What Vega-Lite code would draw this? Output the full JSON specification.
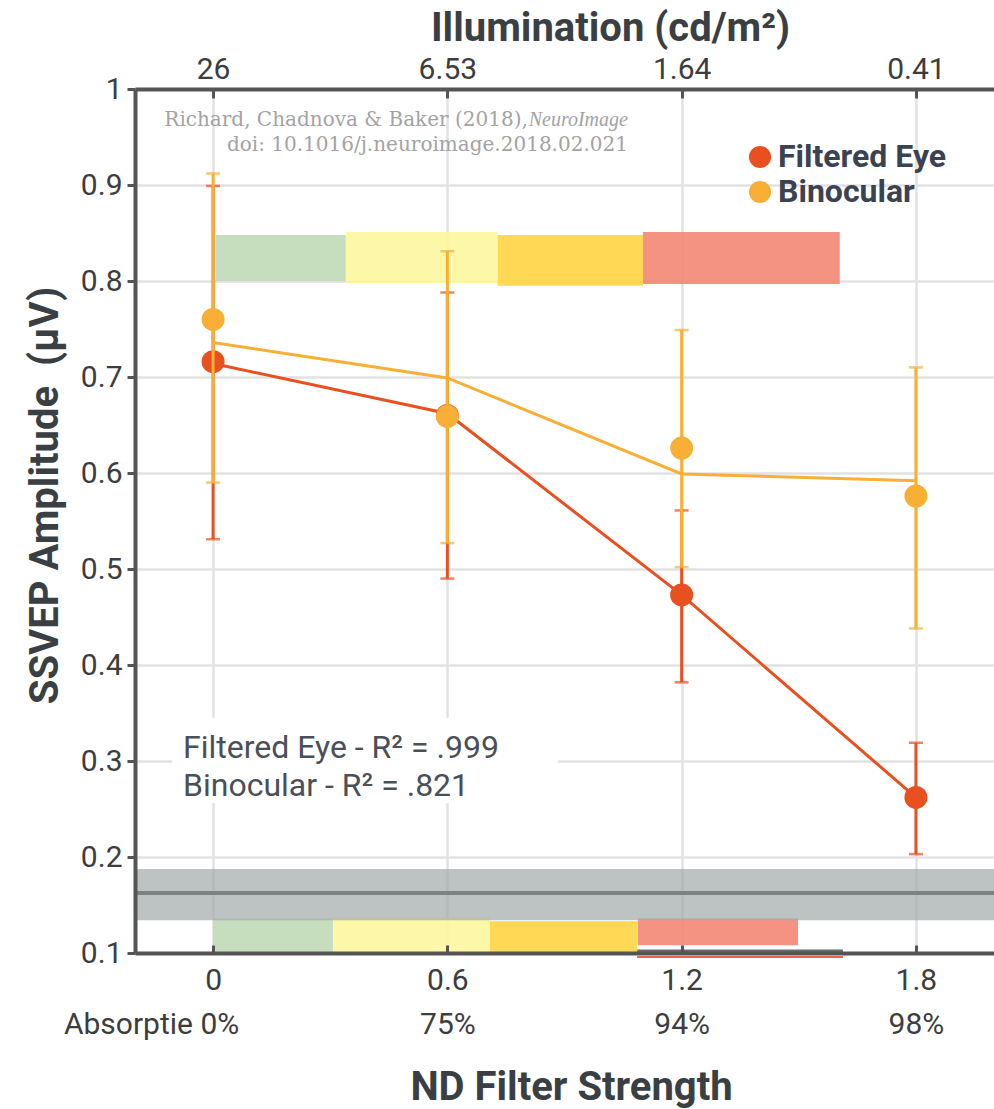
{
  "$schema": "https://vega.github.io/schema/vega-lite/v6.json",
  "width": 859,
  "height": 864,
  "autosize": {"type": "none"},
  "padding": {"left": 135, "top": 89, "right": 0, "bottom": 156},
  "config": {
    "view": {"stroke": null},
    "axis": {
      "labelFont": "Roboto",
      "titleFont": "Roboto",
      "labelColor": "#3d3d3d",
      "titleColor": "#3a3f44",
      "labelFontSize": 30,
      "titleFontSize": 40,
      "titleFontWeight": "bold",
      "labelFlush": false,
      "labelOverlap": false,
      "labelBound": false
    },
    "legend": {
      "labelFont": "Roboto",
      "labelFontSize": 32,
      "labelFontWeight": "bold",
      "labelColor": "#3b4252",
      "labelLimit": 400,
      "symbolType": "circle",
      "symbolSize": 490,
      "symbolStrokeWidth": 0,
      "symbolOpacity": 1,
      "rowPadding": 3,
      "labelOffset": 2
    }
  },
  "datasets": {
    "series": [
      {"cond": "Filtered Eye", "nd": 0, "amp": 0.716, "lo": 0.531, "hi": 0.899, "fit": 0.714},
      {"cond": "Filtered Eye", "nd": 0.6, "amp": 0.66, "lo": 0.49, "hi": 0.788, "fit": 0.662},
      {"cond": "Filtered Eye", "nd": 1.2, "amp": 0.473, "lo": 0.382, "hi": 0.561, "fit": 0.473},
      {"cond": "Filtered Eye", "nd": 1.8, "amp": 0.262, "lo": 0.203, "hi": 0.319, "fit": 0.262},
      {"cond": "Binocular", "nd": 0, "amp": 0.76, "lo": 0.59, "hi": 0.912, "fit": 0.736},
      {"cond": "Binocular", "nd": 0.6, "amp": 0.659, "lo": 0.527, "hi": 0.831, "fit": 0.699},
      {"cond": "Binocular", "nd": 1.2, "amp": 0.626, "lo": 0.502, "hi": 0.749, "fit": 0.599},
      {"cond": "Binocular", "nd": 1.8, "amp": 0.576, "lo": 0.438, "hi": 0.71, "fit": 0.592}
    ],
    "bands": [
      {"zone": "z1", "x0": 0.007, "x1": 0.34, "y0": 0.8, "y1": 0.848},
      {"zone": "z2", "x0": 0.34, "x1": 0.729, "y0": 0.798, "y1": 0.851},
      {"zone": "z3", "x0": 0.729, "x1": 1.101, "y0": 0.795, "y1": 0.848},
      {"zone": "z4", "x0": 1.101, "x1": 1.605, "y0": 0.797, "y1": 0.851},
      {"zone": "z1", "x0": 0.0, "x1": 0.307, "y0": 0.1, "y1": 0.136},
      {"zone": "z2", "x0": 0.307, "x1": 0.709, "y0": 0.1, "y1": 0.137},
      {"zone": "z3", "x0": 0.709, "x1": 1.086, "y0": 0.1, "y1": 0.133},
      {"zone": "z4", "x0": 1.088, "x1": 1.498, "y0": 0.108, "y1": 0.136}
    ],
    "noise": [
      {"lo": 0.134, "hi": 0.1875, "mid": 0.1625}
    ]
  },
  "resolve": {"axis": {"x": "independent", "y": "independent"}},
  "layer": [
    {
      "data": {"name": "bands"},
      "mark": {"type": "rect", "opacity": 0.9},
      "encoding": {
        "x": {"field": "x0", "type": "quantitative", "scale": {"domain": [-0.2, 2.0], "nice": false, "zero": false},
          "axis": {"orient": "bottom", "values": [0, 0.6, 1.2, 1.8], "grid": true, "gridColor": "#e2e2e2", "gridWidth": 2.5, "labels": false, "ticks": false, "domain": false, "title": null, "zindex": 0}},
        "x2": {"field": "x1"},
        "y": {"field": "y0", "type": "quantitative", "scale": {"domain": [0.1, 1.0], "nice": false, "zero": false},
          "axis": {"orient": "right", "values": [0.1, 0.2, 0.3, 0.4, 0.5, 0.6, 0.7, 0.8, 0.9, 1.0], "grid": true, "gridColor": "#e2e2e2", "gridWidth": 2.5, "labels": false, "ticks": false, "domain": false, "title": null, "zindex": 0}},
        "y2": {"field": "y1"},
        "color": {"field": "zone", "type": "nominal",
          "scale": {"domain": ["Filtered Eye", "Binocular", "z1", "z2", "z3", "z4"], "range": ["#e9501f", "#f8af35", "#c0dab7", "#fdf79e", "#ffd443", "#f48775"]},
          "legend": {"orient": "none", "legendX": 609, "legendY": 52, "title": null, "symbolType": "circle", "symbolOpacity": 1, "values": ["Filtered Eye", "Binocular"]}}
      }
    },
    {
      "data": {"name": "noise"},
      "mark": {"type": "rect", "color": "#a3abab", "opacity": 0.72},
      "encoding": {
        "y": {"field": "lo", "type": "quantitative", "scale": {"domain": [0.1, 1.0], "nice": false, "zero": false},
          "axis": {"orient": "left", "values": [0.1, 0.2, 0.3, 0.4, 0.5, 0.6, 0.7, 0.8, 0.9, 1.0], "format": "~g", "grid": false, "domainColor": "#555555", "domainWidth": 4, "tickColor": "#555555", "tickWidth": 3, "tickSize": 8, "labelPadding": 5,
            "title": "SSVEP Amplitude \u00a0(µV)", "titleX": -90, "titleY": 406, "titleAngle": -90, "titleAlign": "center", "titleBaseline": "middle", "zindex": 1}},
        "y2": {"field": "hi"}
      }
    },
    {
      "data": {"name": "noise"},
      "mark": {"type": "rule", "color": "#7b8383", "strokeWidth": 4},
      "encoding": {
        "y": {"field": "mid", "type": "quantitative", "scale": {"domain": [0.1, 1.0], "nice": false, "zero": false}, "axis": null}
      }
    },
    {
      "data": {"name": "noise"},
      "mark": {"type": "rect", "color": "white"},
      "encoding": {
        "x": {"datum": -0.105, "type": "quantitative", "scale": {"domain": [-0.2, 2.0], "nice": false, "zero": false},
          "axis": {"orient": "bottom", "values": [0, 0.6, 1.2, 1.8], "format": "~g", "grid": false, "ticks": true, "tickSize": -8, "tickWidth": 3, "tickColor": "#555555", "domainColor": "#555555", "domainWidth": 4, "labelPadding": 20, "title": null, "zindex": 1}},
        "x2": {"datum": 0.883},
        "y": {"datum": 0.256, "type": "quantitative", "scale": {"domain": [0.1, 1.0], "nice": false, "zero": false}, "axis": null},
        "y2": {"datum": 0.345}
      }
    },
    {
      "data": {"name": "noise"},
      "mark": {"type": "rule", "color": "#6b6b6b", "strokeWidth": 4},
      "encoding": {
        "x": {"datum": 1.086, "type": "quantitative", "scale": {"domain": [-0.2, 2.0], "nice": false, "zero": false},
          "axis": {"orient": "top", "values": [0, 0.6, 1.2, 1.8], "grid": false, "ticks": true, "tickSize": -9, "tickWidth": 3, "tickColor": "#555555", "domainColor": "#555555", "domainWidth": 4, "labelPadding": 14,
            "labelExpr": "datum.value == 0 ? '26' : datum.value == 0.6 ? '6.53' : datum.value == 1.2 ? '1.64' : '0.41'",
            "title": "Illumination (cd/m²)", "titleX": 475, "titleY": -61, "titleBaseline": "middle", "titleAlign": "center", "zindex": 1}},
        "x2": {"datum": 1.613},
        "y": {"datum": 0.1015, "type": "quantitative", "scale": {"domain": [0.1, 1.0], "nice": false, "zero": false}, "axis": null}
      }
    },
    {
      "data": {"name": "noise"},
      "mark": {"type": "rule", "color": "#f0604a", "strokeWidth": 2},
      "encoding": {
        "x": {"datum": 1.086, "type": "quantitative", "scale": {"domain": [-0.2, 2.0], "nice": false, "zero": false},
          "axis": {"orient": "bottom", "values": [0, 0.6, 1.2, 1.8], "grid": false, "ticks": false, "domain": false, "labelPadding": 56,
            "labelExpr": "datum.value == 0 ? 'Absorptie 0%' : datum.value == 0.6 ? '75%' : datum.value == 1.2 ? '94%' : '98%'",
            "labelOffset": {"condition": {"test": "datum.value == 0", "value": -62}, "value": 0},
            "title": "ND Filter Strength", "titleX": 436, "titleY": 134, "titleBaseline": "middle", "titleAlign": "center", "zindex": 1}},
        "x2": {"datum": 1.613},
        "y": {"datum": 0.0958, "type": "quantitative", "scale": {"domain": [0.1, 1.0], "nice": false, "zero": false}, "axis": null}
      }
    },
    {
      "data": {"name": "series"},
      "transform": [{"filter": "datum.cond == 'Filtered Eye'"}],
      "mark": {"type": "errorbar", "ticks": {"size": 14, "thickness": 2.5}, "rule": {"strokeWidth": 3}},
      "encoding": {
        "x": {"field": "nd", "type": "quantitative", "scale": {"domain": [-0.2, 2.0], "nice": false, "zero": false}, "axis": null},
        "y": {"field": "lo", "type": "quantitative", "scale": {"domain": [0.1, 1.0], "nice": false, "zero": false}, "axis": null},
        "y2": {"field": "hi"},
        "color": {"field": "cond", "type": "nominal"}
      }
    },
    {
      "data": {"name": "series"},
      "transform": [{"filter": "datum.cond == 'Filtered Eye'"}],
      "mark": {"type": "line", "strokeWidth": 3},
      "encoding": {
        "x": {"field": "nd", "type": "quantitative", "scale": {"domain": [-0.2, 2.0], "nice": false, "zero": false}, "axis": null},
        "y": {"field": "fit", "type": "quantitative", "scale": {"domain": [0.1, 1.0], "nice": false, "zero": false}, "axis": null},
        "color": {"field": "cond", "type": "nominal"}
      }
    },
    {
      "data": {"name": "series"},
      "transform": [{"filter": "datum.cond == 'Filtered Eye'"}],
      "mark": {"type": "point", "filled": true, "size": 530, "opacity": 1},
      "encoding": {
        "x": {"field": "nd", "type": "quantitative", "scale": {"domain": [-0.2, 2.0], "nice": false, "zero": false}, "axis": null},
        "y": {"field": "amp", "type": "quantitative", "scale": {"domain": [0.1, 1.0], "nice": false, "zero": false}, "axis": null},
        "color": {"field": "cond", "type": "nominal"}
      }
    },
    {
      "data": {"name": "series"},
      "transform": [{"filter": "datum.cond == 'Binocular'"}],
      "mark": {"type": "errorbar", "ticks": {"size": 14, "thickness": 2.5}, "rule": {"strokeWidth": 3}},
      "encoding": {
        "x": {"field": "nd", "type": "quantitative", "scale": {"domain": [-0.2, 2.0], "nice": false, "zero": false}, "axis": null},
        "y": {"field": "lo", "type": "quantitative", "scale": {"domain": [0.1, 1.0], "nice": false, "zero": false}, "axis": null},
        "y2": {"field": "hi"},
        "color": {"field": "cond", "type": "nominal"}
      }
    },
    {
      "data": {"name": "series"},
      "transform": [{"filter": "datum.cond == 'Binocular'"}],
      "mark": {"type": "line", "strokeWidth": 3},
      "encoding": {
        "x": {"field": "nd", "type": "quantitative", "scale": {"domain": [-0.2, 2.0], "nice": false, "zero": false}, "axis": null},
        "y": {"field": "fit", "type": "quantitative", "scale": {"domain": [0.1, 1.0], "nice": false, "zero": false}, "axis": null},
        "color": {"field": "cond", "type": "nominal"}
      }
    },
    {
      "data": {"name": "series"},
      "transform": [{"filter": "datum.cond == 'Binocular'"}],
      "mark": {"type": "point", "filled": true, "size": 530, "opacity": 1},
      "encoding": {
        "x": {"field": "nd", "type": "quantitative", "scale": {"domain": [-0.2, 2.0], "nice": false, "zero": false}, "axis": null},
        "y": {"field": "amp", "type": "quantitative", "scale": {"domain": [0.1, 1.0], "nice": false, "zero": false}, "axis": null},
        "color": {"field": "cond", "type": "nominal"}
      }
    },
    {
      "mark": {"type": "text", "font": "Roboto", "fontSize": 32, "color": "#4a4f58", "align": "left", "baseline": "alphabetic"},
      "data": {"values": [{"line": "Filtered Eye - R² = .999", "pos": 0.303}, {"line": "Binocular - R² = .821", "pos": 0.2635}]},
      "encoding": {
        "x": {"datum": -0.077, "type": "quantitative", "scale": {"domain": [-0.2, 2.0], "nice": false, "zero": false}, "axis": null},
        "y": {"field": "pos", "type": "quantitative", "scale": {"domain": [0.1, 1.0], "nice": false, "zero": false}, "axis": null},
        "text": {"field": "line"}
      }
    },
    {
      "mark": {"type": "text", "font": "DejaVu Serif", "fontSize": 20, "color": "#a3a3a3", "align": "right", "baseline": "alphabetic"},
      "data": {"values": [{"line": "Richard, Chadnova & Baker (2018),", "px": 0.806, "pos": 0.9615}, {"line": "doi: 10.1016/j.neuroimage.2018.02.021", "px": 1.0625, "pos": 0.9354}]},
      "encoding": {
        "x": {"field": "px", "type": "quantitative", "scale": {"domain": [-0.2, 2.0], "nice": false, "zero": false}, "axis": null},
        "y": {"field": "pos", "type": "quantitative", "scale": {"domain": [0.1, 1.0], "nice": false, "zero": false}, "axis": null},
        "text": {"field": "line"}
      }
    },
    {
      "mark": {"type": "text", "font": "Liberation Serif", "fontSize": 20, "fontStyle": "italic", "color": "#a3a3a3", "align": "right", "baseline": "alphabetic"},
      "data": {"values": [{"line": "NeuroImage"}]},
      "encoding": {
        "x": {"datum": 1.0625, "type": "quantitative", "scale": {"domain": [-0.2, 2.0], "nice": false, "zero": false}, "axis": null},
        "y": {"datum": 0.9615, "type": "quantitative", "scale": {"domain": [0.1, 1.0], "nice": false, "zero": false}, "axis": null},
        "text": {"field": "line"}
      }
    }
  ]
}
